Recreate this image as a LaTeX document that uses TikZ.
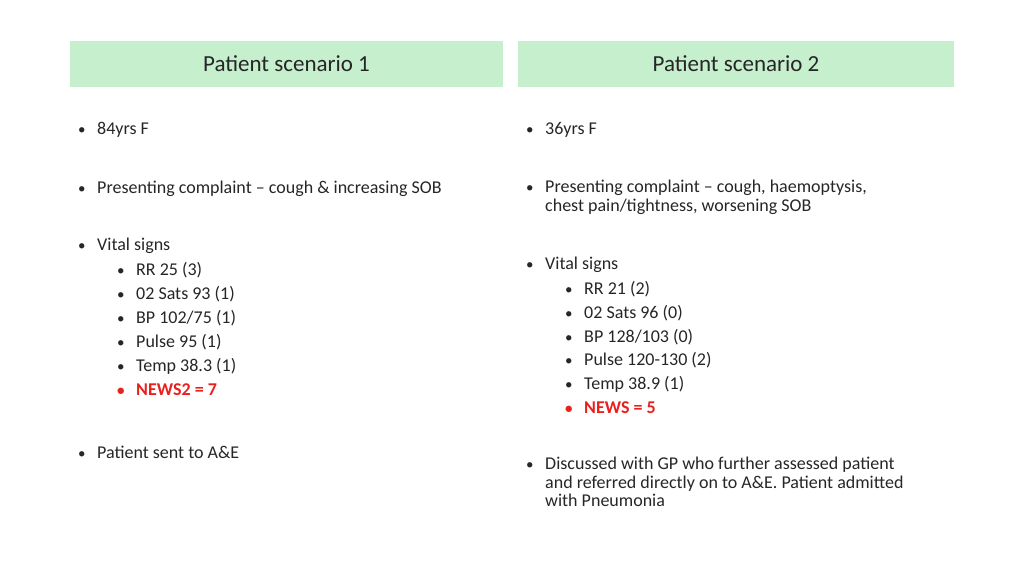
\documentclass[tikz,border=0pt]{standalone}
\usepackage{fontspec}
\setmainfont{Carlito}
\definecolor{hdr}{HTML}{C6EFCE}
\definecolor{newsred}{HTML}{E8201E}
\newcommand{\bul}{\makebox[19pt][l]{\fontsize{15}{15}\selectfont•}}
\begin{document}
\begin{tikzpicture}[x=1pt,y=-1pt,
  hdrbox/.style={fill=hdr,draw=none,minimum width=433pt,minimum height=46pt,font=\fontsize{23}{26}\selectfont,text=black!85},
  txt/.style={anchor=west,inner sep=0pt,font=\fontsize{18}{18.5}\selectfont,text=black!85,align=left},
  red/.style={txt,text=newsred,font=\fontsize{18}{18.5}\selectfont\bfseries}]
\useasboundingbox (0,0) rectangle (1024,576);
\node[hdrbox] (h1) at (286.5,64) {Patient scenario 1};
\node[hdrbox,minimum width=436pt] (h2) at (736,64) {Patient scenario 2};
% left column
\node[txt] (l1) at (78,130) {\bul 84yrs F};
\node[txt] (l2) at (78,189) {\bul Presenting complaint – cough \& increasing SOB};
\node[txt] (l3) at (78,246) {\bul Vital signs};
\node[txt] (l4) at (117,270) {\bul RR 25 (3)};
\node[txt] (l5) at (117,294) {\bul 02 Sats 93 (1)};
\node[txt] (l6) at (117,318) {\bul BP 102/75 (1)};
\node[txt] (l7) at (117,342) {\bul Pulse 95 (1)};
\node[txt] (l8) at (117,366) {\bul Temp 38.3 (1)};
\node[red] (l9) at (117,390) {\bul NEWS2 = 7};
\node[txt] (l10) at (78,452) {\bul Patient sent to A\&E};
% right column
\node[txt] (r1) at (526,130) {\bul 36yrs F};
\node[txt,anchor=north west] (r2) at (526,180) {\bul Presenting complaint – cough, haemoptysis,\\\hspace*{19pt}chest pain/tightness, worsening SOB};
\node[txt] (r3) at (526,265) {\bul Vital signs};
\node[txt] (r4) at (565,289) {\bul RR 21 (2)};
\node[txt] (r5) at (565,313) {\bul 02 Sats 96 (0)};
\node[txt] (r6) at (565,337) {\bul BP 128/103 (0)};
\node[txt] (r7) at (565,360) {\bul Pulse 120-130 (2)};
\node[txt] (r8) at (565,384) {\bul Temp 38.9 (1)};
\node[red] (r9) at (565,408) {\bul NEWS = 5};
\node[txt,anchor=north west] (r10) at (526,457) {\bul Discussed with GP who further assessed patient\\\hspace*{19pt}and referred directly on to A\&E. Patient admitted\\\hspace*{19pt}with Pneumonia};
\end{tikzpicture}
\end{document}
